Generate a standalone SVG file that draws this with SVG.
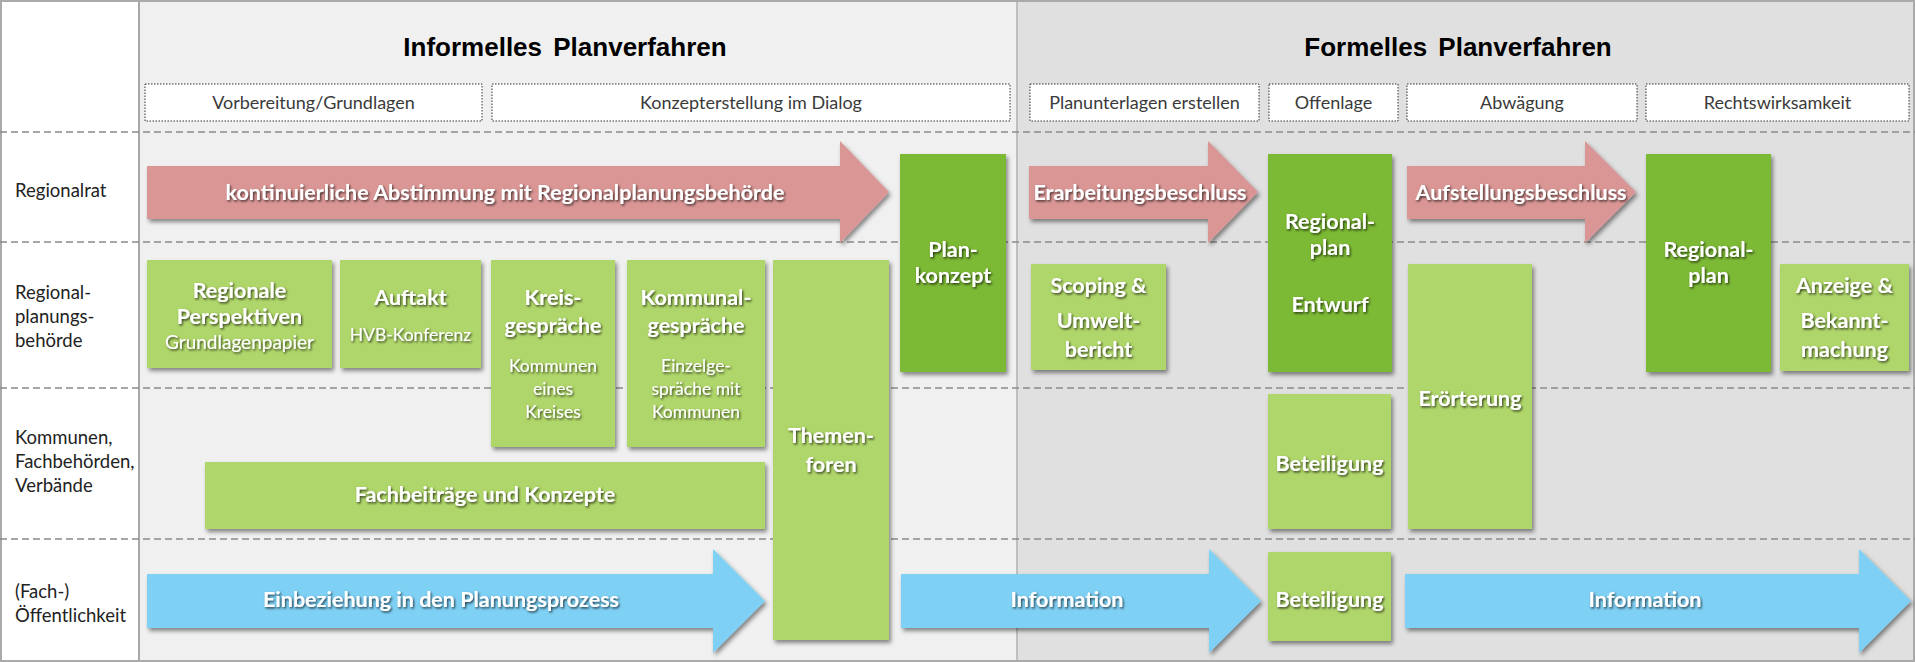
<svg xmlns="http://www.w3.org/2000/svg" width="1915" height="662" viewBox="0 0 1915 662">
  <defs>
    <style>
      .title { font-family: "Liberation Sans", Arial, sans-serif; font-weight: bold; font-size: 26px; fill: #000; text-anchor: middle; word-spacing: 4px; }
      .phase { font-family: Lato, "Liberation Sans", sans-serif; font-size: 18px; fill: #3a3a3a; text-anchor: middle; }
      .phasebox { fill: #fff; stroke: #333; stroke-width: 1; stroke-dasharray: 1.5 1.5; }
      .row { font-family: Lato, "Liberation Sans", sans-serif; font-size: 18.5px; fill: #222; }
      .lane { stroke: #8a8a8a; stroke-width: 1.3; stroke-dasharray: 7 4; fill: none; }
      .light { fill: #afd66a; filter: url(#boxShadow); }
      .dark { fill: #7cb934; filter: url(#boxShadow); }
      .red { fill: #d99695; filter: url(#boxShadow); }
      .blue { fill: #7ed0f5; filter: url(#boxShadow); }
      .lbl { font-family: Lato, "Liberation Sans", sans-serif; font-weight: bold; font-size: 21.5px; fill: #fff; text-anchor: middle; filter: url(#txtShadow); }
      .sub { font-family: Lato, "Liberation Sans", sans-serif; font-size: 17.5px; fill: #fff; text-anchor: middle; filter: url(#txtShadow); }
    </style>
    <filter id="boxShadow" x="-10%" y="-10%" width="125%" height="130%">
      <feDropShadow dx="2" dy="3" stdDeviation="2" flood-color="#000" flood-opacity="0.45"/>
    </filter>
    <filter id="txtShadow" x="-5%" y="-20%" width="115%" height="150%">
      <feDropShadow dx="1.2" dy="1.5" stdDeviation="0.8" flood-color="#000" flood-opacity="0.7"/>
    </filter>
  </defs>

  <!-- backgrounds -->
  <rect x="0" y="0" width="139" height="662" fill="#fff"/>
  <rect x="139" y="0" width="878" height="662" fill="#f0f0f0"/>
  <rect x="1017" y="0" width="898" height="662" fill="#e0e0e0"/>
  <line x1="139" y1="0" x2="139" y2="662" stroke="#a8a8a8" stroke-width="2"/>
  <line x1="1017" y1="0" x2="1017" y2="662" stroke="#b0b0b0" stroke-width="1.5"/>
  <rect x="1" y="1" width="1913" height="660" fill="none" stroke="#aaa" stroke-width="2"/>

  <!-- swimlane separators -->
  <g id="lanes">
    <line class="lane" x1="0" y1="132" x2="1915" y2="132"/>
    <line class="lane" x1="0" y1="242" x2="1915" y2="242"/>
    <line class="lane" x1="0" y1="388" x2="1915" y2="388"/>
    <line class="lane" x1="0" y1="539" x2="1915" y2="539"/>
  </g>

  <!-- section titles -->
  <text class="title" x="565" y="56">Informelles Planverfahren</text>
  <text class="title" x="1458" y="56">Formelles Planverfahren</text>

  <!-- phase headers -->
  <g id="phases">
    <rect class="phasebox" x="145" y="84" width="337" height="37"/>
    <text class="phase" x="313.5" y="109">Vorbereitung/Grundlagen</text>
    <rect class="phasebox" x="492" y="84" width="518" height="37"/>
    <text class="phase" x="751" y="109">Konzepterstellung im Dialog</text>
    <rect class="phasebox" x="1030" y="84" width="229" height="37"/>
    <text class="phase" x="1144.5" y="109">Planunterlagen erstellen</text>
    <rect class="phasebox" x="1269" y="84" width="129" height="37"/>
    <text class="phase" x="1333.5" y="109">Offenlage</text>
    <rect class="phasebox" x="1407" y="84" width="230" height="37"/>
    <text class="phase" x="1522" y="109">Abwägung</text>
    <rect class="phasebox" x="1646" y="84" width="263" height="37"/>
    <text class="phase" x="1777.5" y="109">Rechtswirksamkeit</text>
  </g>

  <!-- lane titles -->
  <g id="lane-titles">
    <text class="row" x="15" y="197">Regionalrat</text>
    <text class="row" x="15" y="299">Regional-</text>
    <text class="row" x="15" y="323">planungs-</text>
    <text class="row" x="15" y="347">behörde</text>
    <text class="row" x="15" y="444">Kommunen,</text>
    <text class="row" x="15" y="468">Fachbehörden,</text>
    <text class="row" x="15" y="492">Verbände</text>
    <text class="row" x="15" y="598">(Fach-)</text>
    <text class="row" x="15" y="622">Öffentlichkeit</text>
  </g>

  <!-- flow arrows -->
  <g id="flow-arrows">
    <g id="arrow-abstimmung">
      <path class="red" d="M147,166 H840 V141 L889,192 L840,243 V219 H147 Z"/>
      <text class="lbl" x="505" y="200">kontinuierliche Abstimmung mit Regionalplanungsbehörde</text>
    </g>
    <g id="arrow-erarbeitung">
      <path class="red" d="M1029,166 H1208 V141 L1258,192 L1208,243 V219 H1029 Z"/>
      <text class="lbl" x="1140" y="200">Erarbeitungsbeschluss</text>
    </g>
    <g id="arrow-aufstellung">
      <path class="red" d="M1407,166 H1585 V141 L1636,192 L1585,243 V219 H1407 Z"/>
      <text class="lbl" x="1521" y="200">Aufstellungsbeschluss</text>
    </g>
    <g id="arrow-einbeziehung">
      <path class="blue" d="M147,574 H713 V549 L765,601 L713,653 V628 H147 Z"/>
      <text class="lbl" x="441" y="607">Einbeziehung in den Planungsprozess</text>
    </g>
    <g id="arrow-information-1">
      <path class="blue" d="M901,574 H1209 V549 L1261,601 L1209,653 V628 H901 Z"/>
      <text class="lbl" x="1067" y="607">Information</text>
    </g>
    <g id="arrow-information-2">
      <path class="blue" d="M1405,574 H1859 V549 L1911,601 L1859,653 V628 H1405 Z"/>
      <text class="lbl" x="1645" y="607">Information</text>
    </g>
  </g>

  <!-- informal process -->
  <g id="regionale-perspektiven">
    <rect class="light" x="147" y="260" width="185" height="108"/>
    <text class="lbl" x="239.5" y="298">Regionale</text>
    <text class="lbl" x="239.5" y="324">Perspektiven</text>
    <text class="sub" x="239.5" y="349" style="font-size:19px">Grundlagenpapier</text>
  </g>
  <g id="auftakt">
    <rect class="light" x="340" y="260" width="141" height="108"/>
    <text class="lbl" x="410.5" y="305">Auftakt</text>
    <text class="sub" x="410.5" y="341">HVB-Konferenz</text>
  </g>
  <g id="kreisgespraeche">
    <rect class="light" x="491" y="260" width="124" height="187"/>
    <text class="lbl" x="553" y="305">Kreis-</text>
    <text class="lbl" x="553" y="333">gespräche</text>
    <text class="sub" x="553" y="372">Kommunen</text>
    <text class="sub" x="553" y="395">eines</text>
    <text class="sub" x="553" y="418">Kreises</text>
  </g>
  <g id="kommunalgespraeche">
    <rect class="light" x="627" y="260" width="138" height="187"/>
    <text class="lbl" x="696" y="305">Kommunal-</text>
    <text class="lbl" x="696" y="333">gespräche</text>
    <text class="sub" x="696" y="372">Einzelge-</text>
    <text class="sub" x="696" y="395">spräche mit</text>
    <text class="sub" x="696" y="418">Kommunen</text>
  </g>
  <g id="fachbeitraege">
    <rect class="light" x="205" y="462" width="560" height="67"/>
    <text class="lbl" x="485" y="502">Fachbeiträge und Konzepte</text>
  </g>
  <g id="themenforen">
    <rect class="light" x="773" y="260" width="116" height="380"/>
    <text class="lbl" x="831" y="443">Themen-</text>
    <text class="lbl" x="831" y="472">foren</text>
  </g>
  <g id="plankonzept">
    <rect class="dark" x="900" y="154" width="106" height="218"/>
    <text class="lbl" x="953" y="257">Plan-</text>
    <text class="lbl" x="953" y="283">konzept</text>
  </g>

  <!-- formal process -->
  <g id="scoping">
    <rect class="light" x="1031" y="264" width="135" height="106"/>
    <text class="lbl" x="1098.5" y="293">Scoping &amp;</text>
    <text class="lbl" x="1098.5" y="328">Umwelt-</text>
    <text class="lbl" x="1098.5" y="357">bericht</text>
  </g>
  <g id="regionalplan-entwurf">
    <rect class="dark" x="1268" y="154" width="124" height="218"/>
    <text class="lbl" x="1330" y="229">Regional-</text>
    <text class="lbl" x="1330" y="255">plan</text>
    <text class="lbl" x="1330" y="312">Entwurf</text>
  </g>
  <g id="beteiligung-kommunen">
    <rect class="light" x="1268" y="394" width="123" height="135"/>
    <text class="lbl" x="1329.5" y="471">Beteiligung</text>
  </g>
  <g id="beteiligung-oeffentlichkeit">
    <rect class="light" x="1268" y="552" width="123" height="89"/>
    <text class="lbl" x="1329.5" y="607">Beteiligung</text>
  </g>
  <g id="eroerterung">
    <rect class="light" x="1408" y="264" width="124" height="265"/>
    <text class="lbl" x="1470" y="406">Erörterung</text>
  </g>
  <g id="regionalplan">
    <rect class="dark" x="1646" y="154" width="125" height="218"/>
    <text class="lbl" x="1708.5" y="257">Regional-</text>
    <text class="lbl" x="1708.5" y="283">plan</text>
  </g>
  <g id="anzeige">
    <rect class="light" x="1780" y="264" width="129" height="107"/>
    <text class="lbl" x="1844.5" y="293">Anzeige &amp;</text>
    <text class="lbl" x="1844.5" y="328">Bekannt-</text>
    <text class="lbl" x="1844.5" y="357">machung</text>
  </g>
</svg>
